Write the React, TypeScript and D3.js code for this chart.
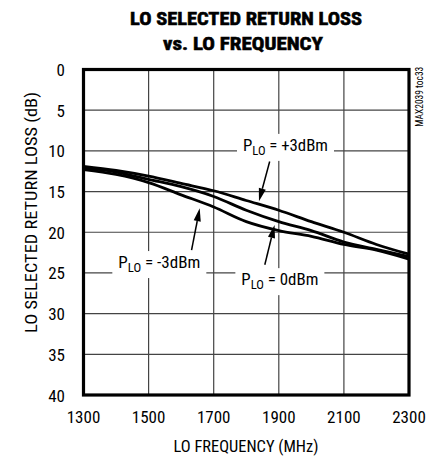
import React from "react";
import * as d3 from "d3";

const freqs = [1300, 1400, 1500, 1600, 1700, 1800, 1900, 2000, 2100, 2200, 2300];
const plus3 = [11.9, 12.4, 13.1, 14.0, 14.9, 16.1, 17.3, 18.7, 20.0, 21.5, 22.7];
const zero = [12.1, 12.6, 13.5, 14.4, 15.6, 17.3, 18.7, 19.8, 21.2, 22.1, 23.0];
const minus3 = [12.3, 12.9, 13.9, 15.4, 16.9, 18.7, 19.8, 20.5, 21.5, 22.2, 23.3];

const xTicks = [1300, 1500, 1700, 1900, 2100, 2300];
const yTicks = [0, 5, 10, 15, 20, 25, 30, 35, 40];

const titleLines = ["LO SELECTED RETURN LOSS", "vs. LO FREQUENCY"];
const xLabel = "LO FREQUENCY (MHz)";
const yLabel = "LO SELECTED RETURN LOSS (dB)";
const sideNote = "MAX2039 toc33";

// annotation: label text start (freq, dB baseline), arrow from -> tip (freq, dB)
const annLabels = ["+3dBm", "-3dBm", "0dBm"];
const annTextAt = [[1790, 10.0], [1407, 24.4], [1785, 26.5]];
const annArrowFrom = [[1872, 11.3], [1632, 22.2], [1857, 24.0]];
const annArrowTo = [[1839, 16.2], [1657, 17.05], [1887, 19.1]];
const annWidths = [85, 82, 77];

const W = 434;
const H = 457;
const FONT = "'Liberation Sans Narrow', 'Arial Narrow', 'Roboto Condensed', 'Liberation Sans', sans-serif";

export default function App() {
  const x = d3.scaleLinear().domain([1300, 2300]).range([83.5, 409]);
  const y = d3.scaleLinear().domain([0, 40]).range([69.5, 395]);
  const line = d3
    .line<number>()
    .x((_, i) => x(freqs[i]))
    .y((d) => y(d))
    .curve(d3.curveMonotoneX);
  const series = [plus3, zero, minus3];

  return (
    <svg width={W} height={H} style={{ position: "absolute", left: 0, top: 0, background: "#fff" }} fontFamily={FONT}>
      <rect x={0} y={0} width={W} height={H} fill="#fff" />
      {/* title */}
      <text x={246} y={25} textAnchor="middle" fontSize={19} fontWeight="bold" textLength={232} lengthAdjust="spacingAndGlyphs" stroke="#000" strokeWidth={0.6}>
        {titleLines[0]}
      </text>
      <text x={243} y={50} textAnchor="middle" fontSize={19} fontWeight="bold" textLength={160} lengthAdjust="spacingAndGlyphs" stroke="#000" strokeWidth={0.6}>
        {titleLines[1]}
      </text>

      {/* grid */}
      {xTicks.map((t) => (
        <line key={"gx" + t} x1={x(t)} x2={x(t)} y1={y(0)} y2={y(40)} stroke="#444" strokeWidth={1.2} />
      ))}
      {yTicks.map((t) => (
        <line key={"gy" + t} x1={x(1300)} x2={x(2300)} y1={y(t)} y2={y(t)} stroke="#444" strokeWidth={1.2} />
      ))}

      {/* annotation boxes (white masks) */}
      {annLabels.map((l, i) => (
        <rect
          key={"bx" + i}
          x={x(annTextAt[i][0]) - 6}
          y={y(annTextAt[i][1]) - 17}
          width={annWidths[i] + 12}
          height={27}
          fill="#fff"
        />
      ))}

      {/* curves */}
      {series.map((s, i) => (
        <path key={"s" + i} d={line(s) || ""} fill="none" stroke="#000" strokeWidth={2.8} strokeLinejoin="round" />
      ))}

      {/* arrows */}
      {annLabels.map((l, i) => {
        const x1 = x(annArrowFrom[i][0]);
        const y1 = y(annArrowFrom[i][1]);
        const x2 = x(annArrowTo[i][0]);
        const y2 = y(annArrowTo[i][1]);
        const a = Math.atan2(y2 - y1, x2 - x1);
        const L = 13;
        const hw = 3.6;
        const bx = x2 - L * Math.cos(a);
        const by = y2 - L * Math.sin(a);
        const px = -Math.sin(a) * hw;
        const py = Math.cos(a) * hw;
        return (
          <g key={"ar" + i}>
            <line x1={x1} y1={y1} x2={bx} y2={by} stroke="#000" strokeWidth={1.5} />
            <polygon points={`${x2},${y2} ${bx + px},${by + py} ${bx - px},${by - py}`} fill="#000" />
          </g>
        );
      })}

      {/* annotation text */}
      {annLabels.map((l, i) => (
        <text
          key={"at" + i}
          x={x(annTextAt[i][0])}
          y={y(annTextAt[i][1])}
          fontSize={16}
          fill="#000"
          textLength={annWidths[i]}
          lengthAdjust="spacingAndGlyphs"
        >
          <tspan>P</tspan>
          <tspan dy={4} fontSize={12}>LO</tspan>
          <tspan dy={-4}>{" = " + l}</tspan>
        </text>
      ))}

      {/* frame */}
      <rect x={x(1300)} y={y(0)} width={x(2300) - x(1300)} height={y(40) - y(0)} fill="none" stroke="#000" strokeWidth={3.2} />

      {/* y tick labels */}
      {yTicks.map((t) => (
        <text key={"yl" + t} x={65} y={y(t) + 6.5} textAnchor="end" fontSize={17} fill="#000">
          {t}
        </text>
      ))}
      {/* x tick labels */}
      {xTicks.map((t) => (
        <text key={"xl" + t} x={x(t)} y={423} textAnchor="middle" fontSize={17} fill="#000">
          {t}
        </text>
      ))}

      {/* axis titles */}
      <text x={246} y={451.5} textAnchor="middle" fontSize={17} fill="#000" textLength={145} lengthAdjust="spacingAndGlyphs">
        {xLabel}
      </text>
      <text
        transform={`translate(36.5,212.5) rotate(-90)`}
        textAnchor="middle"
        fontSize={17}
        fill="#000"
        textLength={241}
        lengthAdjust="spacingAndGlyphs"
      >
        {yLabel}
      </text>
      <text
        transform={`translate(423,96.7) rotate(-90)`}
        textAnchor="middle"
        fontSize={10}
        fill="#000"
        textLength={60}
        lengthAdjust="spacingAndGlyphs"
      >
        {sideNote}
      </text>
    </svg>
  );
}
